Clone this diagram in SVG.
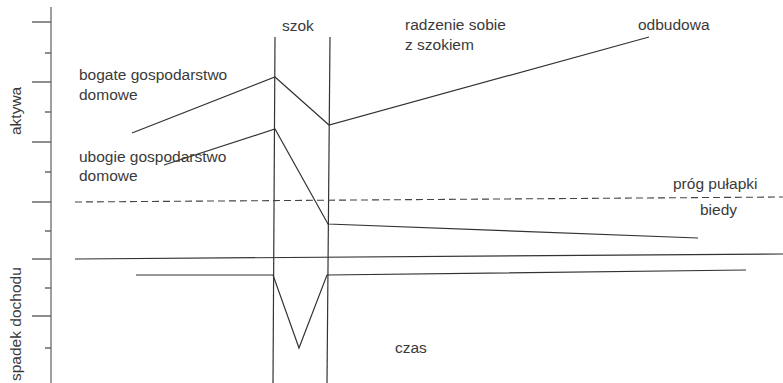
<svg xmlns="http://www.w3.org/2000/svg" width="783" height="383" viewBox="0 0 783 383">
<style>
text{font-family:"Liberation Sans",Arial,sans-serif;font-size:15.5px;fill:#3a3a3a}
.ax{stroke:#6a6a6a;stroke-width:1.3;fill:none}
.ln{stroke:#333;stroke-width:1.2;fill:none}
.dash{stroke:#444;stroke-width:1.1;stroke-dasharray:7 4;fill:none}
</style>
<rect width="783" height="383" fill="#fff"/>
<g id="axis">
<line class="ax" x1="51" y1="7" x2="51" y2="383"/>
<path class="ax" d="M32 22H51M32 82H51M32 142H51M32 202H51M32 259H51M32 316H51M45 53H51M45 112H51M45 172H51M45 231H51M45 288H51M45 348H51"/>
<text transform="translate(21,135) rotate(-90)">aktywa</text>
<text transform="translate(21,381) rotate(-90)">spadek dochodu</text>
</g>
<g id="connectors">
<line class="ln" x1="275" y1="37" x2="273" y2="383"/>
<line class="ln" x1="330" y1="37" x2="327" y2="383"/>
<polyline class="ln" points="132,133 275,77 329,125 649,37"/>
<polyline class="ln" points="164,165 275,129 328,224 698,238"/>
<line class="dash" x1="75" y1="202" x2="783" y2="197"/>
<line class="ln" x1="75" y1="259" x2="783" y2="254"/>
<polyline class="ln" points="136,275 273,275 299,348 327,275 746,270"/>
</g>
<g id="labels">
<text x="282" y="31">szok</text>
<text x="79" y="80">bogate gospodarstwo</text>
<text x="79" y="100">domowe</text>
<text x="79" y="162">ubogie gospodarstwo</text>
<text x="79" y="181">domowe</text>
<text x="405" y="30">radzenie sobie</text>
<text x="405" y="50">z szokiem</text>
<text x="638" y="30">odbudowa</text>
<text x="673" y="189">próg pułapki</text>
<text x="700" y="215">biedy</text>
<text x="395" y="353">czas</text>
</g>
</svg>
